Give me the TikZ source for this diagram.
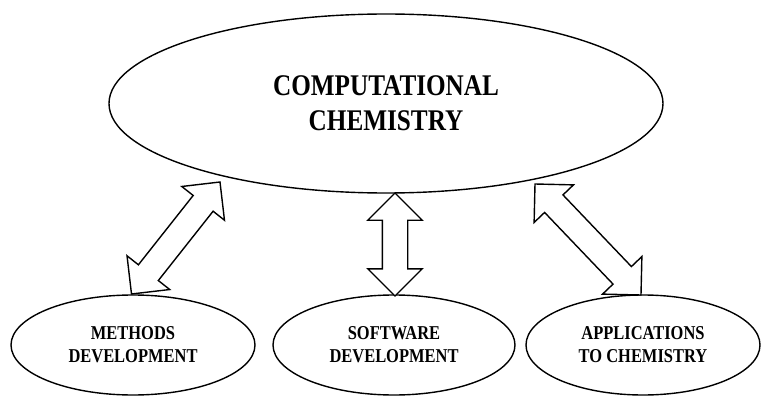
\documentclass[tikz,border=0pt]{standalone}
\usepackage{fontspec}
\newfontfamily\algfont[FakeStretch=0.84]{Liberation Serif Bold}
\usetikzlibrary{shapes.geometric,shapes.arrows,calc}
\tikzset{
  topic/.style={draw=black, line width=1.4pt, ellipse, inner sep=0pt, align=center},
  fatarrow/.style={draw=black, fill=white, line width=1.4pt, double arrow,
    double arrow head extend=14.5pt, inner sep=12pt, double arrow tip angle=90},
}
\newcommand\linkarrow[3]{%
  \path let \p1=($(#3)-(#2)$) in
    node[fatarrow, minimum height={veclen(\x1,\y1)}, rotate={atan2(\y1,\x1)}]
      (#1) at ($(#2)!0.5!(#3)$) {};}
\begin{document}
\begin{tikzpicture}[x=1pt,y=-1pt]
\useasboundingbox (0,0) rectangle (761,396);
\node[topic, minimum width=554pt, minimum height=179pt,
      font=\algfont\fontsize{30}{35}\selectfont] (cc) at (386,103.5)
  {COMPUTATIONAL\\CHEMISTRY};
\node[topic, minimum width=244pt, minimum height=100pt,
      font=\algfont\fontsize{19.6}{23}\selectfont] (md) at (133,345)
  {METHODS\\DEVELOPMENT};
\node[topic, minimum width=242pt, minimum height=100pt,
      font=\algfont\fontsize{19.6}{23}\selectfont] (sd) at (394,345)
  {SOFTWARE\\DEVELOPMENT};
\node[topic, minimum width=234pt, minimum height=100pt,
      font=\algfont\fontsize{19.6}{23}\selectfont] (ac) at (643,345)
  {APPLICATIONS\\TO CHEMISTRY};
\coordinate (mdtop) at (131.5,294);
\coordinate (cctipl) at (220,182);
\coordinate (cctipm) at (395,193);
\coordinate (sdtop) at (395,296);
\coordinate (cctipr) at (535,184);
\coordinate (actop) at (641,295);
\linkarrow{a1}{mdtop}{cctipl}
\linkarrow{a2}{sdtop}{cctipm}
\linkarrow{a3}{cctipr}{actop}
\end{tikzpicture}
\end{document}
